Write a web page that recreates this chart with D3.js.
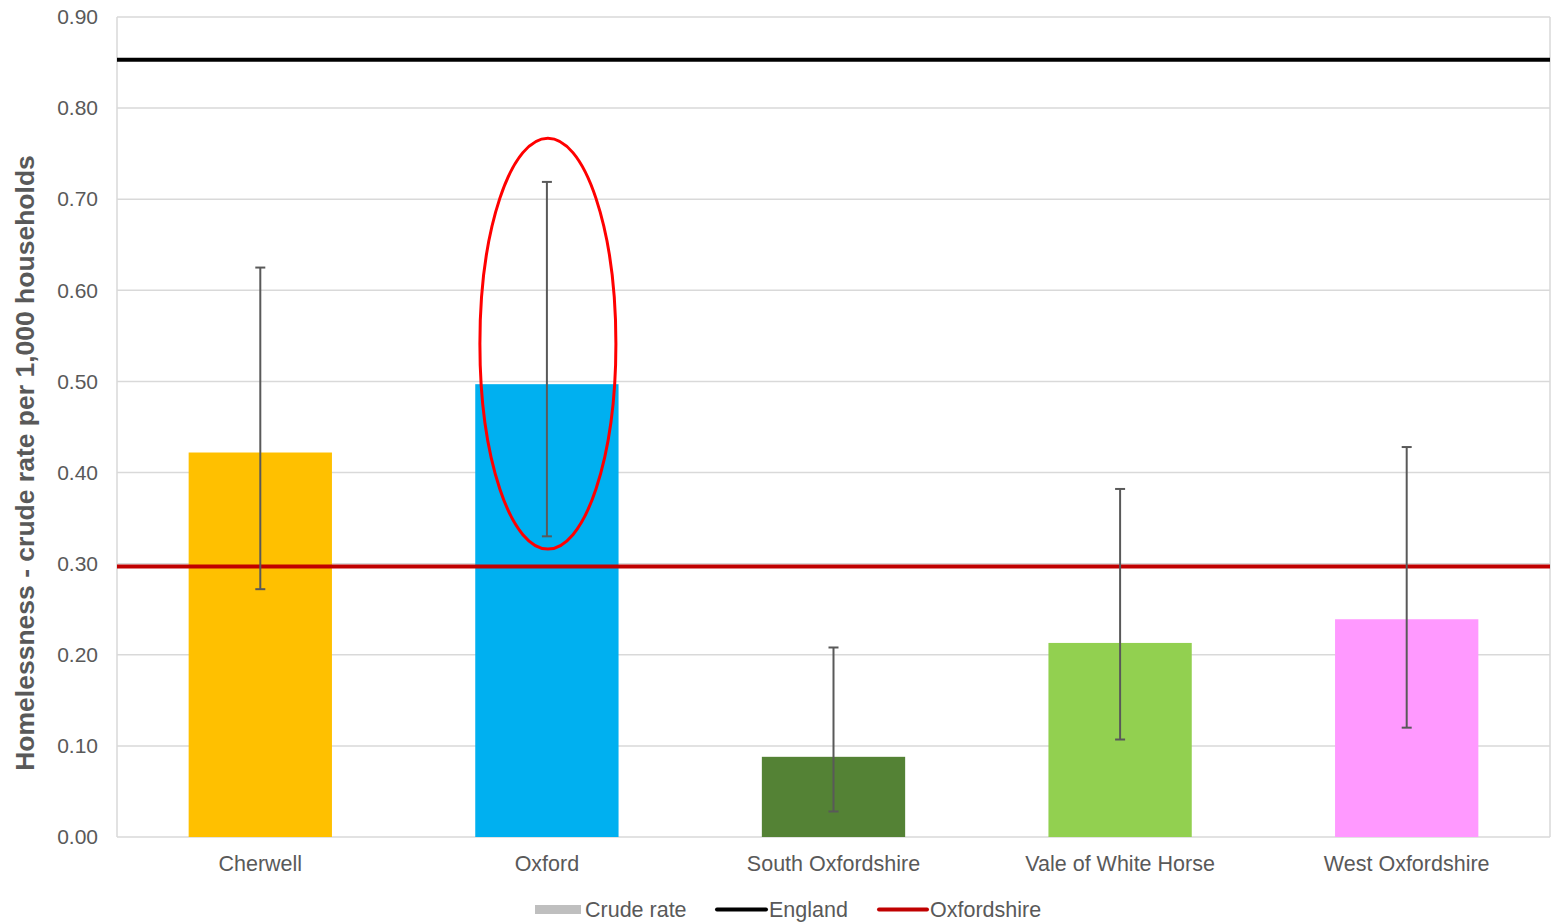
<!DOCTYPE html>
<html><head><meta charset="utf-8">
<script src="https://cdn.jsdelivr.net/npm/d3@7"></script>
<style>body{margin:0;background:#fff}svg{display:block}text{font-family:"Liberation Sans",Arial,sans-serif}</style>
</head><body><svg id="c" width="1551" height="923"></svg>
<script>
const categories = ["Cherwell","Oxford","South Oxfordshire","Vale of White Horse","West Oxfordshire"];
const crudeRate = [0.422,0.497,0.088,0.213,0.239];
const lowerCI = [0.272,0.330,0.028,0.107,0.120];
const upperCI = [0.625,0.719,0.208,0.382,0.428];
const barColors = ["#FFC000","#00B0F0","#548235","#92D050","#FF99FF"];
const englandValue = 0.853;
const oxfordshireValue = 0.297;
const yTicks = [0,0.1,0.2,0.3,0.4,0.5,0.6,0.7,0.8,0.9];
const highlight = {category:"Oxford", top:0.767, bottom:0.316};

const svg = d3.select("#c");
const m = {l:117, r:1550, t:17, b:837};
const x = d3.scaleBand().domain(categories).range([m.l,m.r]).paddingInner(0.5).paddingOuter(0.25);
const y = d3.scaleLinear().domain([0,0.9]).range([m.b,m.t]);

// gridlines
svg.append("g").selectAll("line").data(yTicks).join("line")
  .attr("x1",m.l).attr("x2",m.r).attr("y1",d=>y(d)).attr("y2",d=>y(d))
  .attr("stroke","#D9D9D9").attr("stroke-width",1.5);
svg.append("line").attr("x1",m.l).attr("x2",m.l).attr("y1",m.t).attr("y2",m.b).attr("stroke","#D9D9D9").attr("stroke-width",1.5);
svg.append("line").attr("x1",m.r).attr("x2",m.r).attr("y1",m.t).attr("y2",m.b).attr("stroke","#D9D9D9").attr("stroke-width",1.5);

// y axis
const ya = svg.append("g").attr("transform",`translate(${m.l},0)`).call(d3.axisLeft(y).tickValues(yTicks).tickFormat(d3.format(".2f")).tickSize(0).tickPadding(19));
ya.select(".domain").remove();
ya.selectAll("text").attr("font-size",21).attr("fill","#595959").style("font-family","'Liberation Sans',Arial,sans-serif");

// x axis
const xa = svg.append("g").attr("transform",`translate(0,${m.b})`).call(d3.axisBottom(x).tickSize(0).tickPadding(19));
xa.select(".domain").remove();
xa.selectAll("text").attr("font-size",21.5).attr("fill","#595959").style("font-family","'Liberation Sans',Arial,sans-serif");

// bars
svg.append("g").selectAll("rect").data(categories).join("rect")
  .attr("x",d=>x(d)).attr("width",x.bandwidth())
  .attr("y",(d,i)=>y(crudeRate[i])).attr("height",(d,i)=>y(0)-y(crudeRate[i]))
  .attr("fill",(d,i)=>barColors[i]);

// reference lines
svg.append("line").attr("x1",m.l).attr("x2",m.r).attr("y1",y(englandValue)).attr("y2",y(englandValue)).attr("stroke","#000").attr("stroke-width",4);
svg.append("line").attr("x1",m.l).attr("x2",m.r).attr("y1",y(oxfordshireValue)).attr("y2",y(oxfordshireValue)).attr("stroke","#C00000").attr("stroke-width",4);

// error bars
const eb = svg.append("g").attr("stroke","#595959").attr("stroke-width",2);
categories.forEach((c,i)=>{
  const cx = x(c)+x.bandwidth()/2;
  eb.append("line").attr("x1",cx).attr("x2",cx).attr("y1",y(upperCI[i])).attr("y2",y(lowerCI[i]));
  eb.append("line").attr("x1",cx-5).attr("x2",cx+5).attr("y1",y(upperCI[i])).attr("y2",y(upperCI[i]));
  eb.append("line").attr("x1",cx-5).attr("x2",cx+5).attr("y1",y(lowerCI[i])).attr("y2",y(lowerCI[i]));
});

// highlight ellipse
const hx = x(highlight.category)+x.bandwidth()/2+1;
svg.append("ellipse").attr("cx",hx).attr("cy",(y(highlight.top)+y(highlight.bottom))/2)
  .attr("rx",68).attr("ry",(y(highlight.bottom)-y(highlight.top))/2)
  .attr("fill","none").attr("stroke","#FF0000").attr("stroke-width",3);

// y label
svg.append("text").attr("transform",`translate(34,463) rotate(-90)`).attr("text-anchor","middle")
  .attr("font-size",26.5).attr("font-weight","bold").attr("fill","#595959")
  .text("Homelessness - crude rate per 1,000 households");

// legend
const lg = svg.append("g").attr("font-size",21.5).attr("fill","#595959");
lg.append("rect").attr("x",535).attr("y",905).attr("width",46).attr("height",9).attr("fill","#BFBFBF");
lg.append("text").attr("x",585).attr("y",917).text("Crude rate");
lg.append("line").attr("x1",717).attr("x2",766).attr("y1",909.5).attr("y2",909.5).attr("stroke","#000").attr("stroke-width",4).attr("stroke-linecap","round");
lg.append("text").attr("x",769).attr("y",917).text("England");
lg.append("line").attr("x1",879).attr("x2",927).attr("y1",909.5).attr("y2",909.5).attr("stroke","#C00000").attr("stroke-width",4).attr("stroke-linecap","round");
lg.append("text").attr("x",930).attr("y",917).text("Oxfordshire");
</script></body></html>
